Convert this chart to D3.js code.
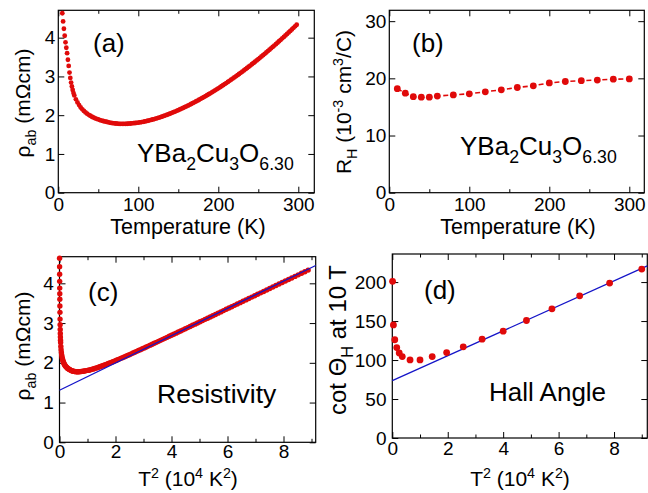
<!DOCTYPE html>
<html><head><meta charset="utf-8">
<script src="https://cdn.jsdelivr.net/npm/d3@7"></script>
<style>
html,body{margin:0;padding:0;background:#fff;}
svg{display:block;font-family:"Liberation Sans",Arial,Helvetica,sans-serif;}
</style></head>
<body><svg id="c" width="648" height="493"></svg>
<script>
// ---- data ----
const tempK = [5,6,7,8,9,10,11,12,13,14,15,16,17,18,19,20,22,24,26,28,30,32,34,36,38,40,42,44,46,48,50,52,54,56,58,60,62,64,66,68,70,72,74,76,78,80,82,84,86,88,90,92,94,96,98,100,102,104,106,108,110,112,114,116,118,120,122,124,126,128,130,132,134,136,138,140,142,144,146,148,150,152,154,156,158,160,162,164,166,168,170,172,174,176,178,180,182,184,186,188,190,192,194,196,198,200,202,204,206,208,210,212,214,216,218,220,222,224,226,228,230,232,234,236,238,240,242,244,246,248,250,252,254,256,258,260,262,264,266,268,270,272,274,276,278,280,282,284,286,288,290,292,294,296,298];
const rhoAB = [4.63,4.42,4.23,4.05,3.88,3.74,3.6,3.43,3.27,3.1,2.96,2.84,2.74,2.65,2.57,2.51,2.41,2.33,2.26,2.2,2.15,2.11,2.07,2.04,2.01,1.985,1.96,1.94,1.92,1.905,1.89,1.875,1.86,1.85,1.84,1.83,1.82,1.81,1.8,1.795,1.79,1.785,1.78,1.778,1.776,1.776,1.776,1.777,1.779,1.782,1.785,1.789,1.793,1.798,1.804,1.81,1.813,1.821,1.829,1.837,1.847,1.856,1.867,1.877,1.889,1.9,1.913,1.925,1.939,1.952,1.966,1.981,1.996,2.011,2.027,2.043,2.06,2.077,2.094,2.112,2.13,2.149,2.167,2.187,2.206,2.226,2.246,2.267,2.288,2.309,2.331,2.353,2.375,2.398,2.421,2.444,2.467,2.491,2.515,2.54,2.565,2.59,2.615,2.641,2.667,2.693,2.72,2.747,2.774,2.802,2.829,2.858,2.886,2.915,2.944,2.973,3.002,3.032,3.062,3.093,3.123,3.154,3.186,3.217,3.249,3.281,3.314,3.346,3.379,3.412,3.446,3.48,3.514,3.548,3.583,3.617,3.653,3.688,3.724,3.76,3.796,3.833,3.87,3.907,3.944,3.982,4.02,4.058,4.096,4.135,4.174,4.213,4.253,4.293,4.333];
const hallT = [10,20,30,40,50,60,80,100,120,140,160,180,200,220,240,260,280,300];
const hallRH = [18.2,17.4,16.8,16.7,16.7,16.9,17.1,17.3,17.65,18.0,18.4,18.7,19.2,19.45,19.6,19.7,19.85,19.9];
const cotTheta = [201,145,126,116,109,104.5,100.2,100.2,104.5,109.6,116.9,126.7,137,150.7,165.7,182.4,198.7,216.7];
const rhoFit = {intercept:1.31, slope:0.343};
const cotFit = {intercept:73.5, slope:16};
const tempTicks = [0,100,200,300];
const t2Ticks = [0,2,4,6,8];

const RED = "#e00a0a", BLUE = "#1414c8";
const TICKFS = 19;
const svg = d3.select("#c");
const fmt = d3.format("d");

function panel(o){
  const g = svg.append("g");
  const x = d3.scaleLinear().domain(o.xd).range([o.x0,o.x1]);
  const y = d3.scaleLinear().domain(o.yd).range([o.y1,o.y0]);
  const mk = (axisFn, scale, vals, len, tr, labels, pad) => {
    const a = axisFn(scale).tickValues(vals).tickSizeInner(-len).tickSizeOuter(0).tickPadding(pad||4);
    a.tickFormat(labels ? fmt : "");
    const gg = g.append("g").attr("transform",tr).call(a);
    gg.select(".domain").remove();
    gg.selectAll("line").attr("stroke","#000").attr("stroke-width",1);
    gg.selectAll("text").attr("font-size",TICKFS).attr("fill","#000").attr("font-family","inherit");
    return gg;
  };
  mk(d3.axisBottom, x, o.xt, 6, `translate(0,${o.y1})`, true, o.xpad);
  mk(d3.axisTop, x, o.xt, 6, `translate(0,${o.y0})`, false);
  mk(d3.axisBottom, x, o.xm, 3.5, `translate(0,${o.y1})`, false);
  mk(d3.axisTop, x, o.xm, 3.5, `translate(0,${o.y0})`, false);
  mk(d3.axisLeft, y, o.yt, 6, `translate(${o.x0},0)`, true, o.ypad || 3);
  mk(d3.axisRight, y, o.yt, 6, `translate(${o.x1},0)`, false);
  g.append("rect").attr("x",o.x0).attr("y",o.y0).attr("width",o.x1-o.x0).attr("height",o.y1-o.y0)
    .attr("fill","none").attr("stroke","#000").attr("stroke-width",1.2);
  return {g,x,y};
}

function addText(sel, parts, fs){
  const off = {"0":0,"-1":0.3,"1":-0.38};
  parts.forEach(([t,m],i)=>{
    const prev = i>0 ? parts[i-1][1] : 0;
    const sp = sel.append("tspan").text(t);
    const shift = off[m] - off[prev];
    if(shift) sp.attr("dy", (shift*fs)+"px");
    sp.attr("font-size", m===0 ? fs : fs*0.68);
  });
}

// Panel a
{
  const p = panel({x0:58.3,x1:314.3,y0:10.3,y1:192.7,xd:[0,320],yd:[0,4.706],xt:tempTicks,xm:[50,150,250],yt:[0,1,2,3,4],xpad:5});
  p.g.append("g").selectAll("circle").data(tempK).join("circle")
    .attr("cx",(d)=>p.x(d)).attr("cy",(d,i)=>p.y(rhoAB[i])).attr("r",2.4).attr("fill",RED);
  const t1 = p.g.append("text").attr("x",93).attr("y",52); addText(t1,[["(a)",0]],26);
  const t2 = p.g.append("text").attr("x",137).attr("y",162);
  addText(t2,[["YBa",0],["2",-1],["Cu",0],["3",-1],["O",0],["6.30",-1]],26);
  const yl = p.g.append("text").attr("transform","translate(30,103) rotate(-90)").attr("text-anchor","middle");
  addText(yl,[["ρ",0],["ab",-1],[" (mΩcm)",0]],21);
  p.g.append("text").attr("x",188).attr("y",234).attr("text-anchor","middle").attr("font-size",21.5).text("Temperature (K)");
}
// Panel b
{
  const p = panel({x0:389.3,x1:644.3,y0:10.3,y1:192.7,xd:[0,318.75],yd:[0,31.9],xt:tempTicks,xm:[50,150,250],yt:[0,10,20,30],xpad:5});
  const line = d3.line().x((d)=>p.x(d)).y((d,i)=>p.y(hallRH[i]));
  p.g.append("path").attr("d",line(hallT)).attr("fill","none").attr("stroke",RED).attr("stroke-width",1.6).attr("stroke-dasharray","5,3");
  p.g.append("g").selectAll("circle").data(hallT).join("circle")
    .attr("cx",d=>p.x(d)).attr("cy",(d,i)=>p.y(hallRH[i])).attr("r",3.4).attr("fill",RED);
  const t1 = p.g.append("text").attr("x",412).attr("y",52); addText(t1,[["(b)",0]],26);
  const t2 = p.g.append("text").attr("x",460).attr("y",155);
  addText(t2,[["YBa",0],["2",-1],["Cu",0],["3",-1],["O",0],["6.30",-1]],26);
  const yl = p.g.append("text").attr("transform","translate(351,102) rotate(-90)").attr("text-anchor","middle");
  addText(yl,[["R",0],["H",-1],[" (10",0],["-3",1],[" cm",0],["3",1],["/C)",0]],21);
  p.g.append("text").attr("x",518).attr("y",234).attr("text-anchor","middle").attr("font-size",21.5).text("Temperature (K)");
}
// Panel c
{
  const p = panel({x0:59.5,x1:315.7,y0:256.7,y1:442.3,xd:[0,9.15],yd:[0,4.67],xt:t2Ticks,xm:[1,3,5,7,9],yt:[0,1,2,3,4],xpad:2.5,ypad:5.8});
  p.g.append("g").selectAll("circle").data(tempK).join("circle")
    .attr("cx",d=>p.x(d*d/1e4)).attr("cy",(d,i)=>p.y(rhoAB[i])).attr("r",2.7).attr("fill",RED);
  p.g.append("line").attr("x1",p.x(0)).attr("y1",p.y(rhoFit.intercept)).attr("x2",p.x(9.15)).attr("y2",p.y(rhoFit.intercept+rhoFit.slope*9.15))
    .attr("stroke",BLUE).attr("stroke-width",1.3);
  const t1 = p.g.append("text").attr("x",88).attr("y",301); addText(t1,[["(c)",0]],26);
  p.g.append("text").attr("x",157).attr("y",403).attr("font-size",26.5).text("Resistivity");
  const yl = p.g.append("text").attr("transform","translate(30,346) rotate(-90)").attr("text-anchor","middle");
  addText(yl,[["ρ",0],["ab",-1],[" (mΩcm)",0]],21);
  const xl = p.g.append("text").attr("x",188).attr("y",486).attr("text-anchor","middle");
  addText(xl,[["T",0],["2",1],[" (10",0],["4",1],[" K",0],["2",1],[")",0]],21);
}
// Panel d
{
  const p = panel({x0:392.3,x1:647.3,y0:254,y1:438,xd:[0,9.2],yd:[0,236],xt:t2Ticks,xm:[1,3,5,7,9],yt:[0,50,100,150,200],xpad:3.5,ypad:5.8});
  p.g.append("line").attr("x1",p.x(0)).attr("y1",p.y(cotFit.intercept)).attr("x2",p.x(9.2)).attr("y2",p.y(cotFit.intercept+cotFit.slope*9.2))
    .attr("stroke",BLUE).attr("stroke-width",1.3);
  p.g.append("g").selectAll("circle").data(hallT).join("circle")
    .attr("cx",d=>p.x(d*d/1e4)).attr("cy",(d,i)=>p.y(cotTheta[i])).attr("r",3.4).attr("fill",RED);
  const t1 = p.g.append("text").attr("x",424).attr("y",299); addText(t1,[["(d)",0]],26);
  p.g.append("text").attr("x",489).attr("y",401).attr("font-size",26).text("Hall Angle");
  const yl = p.g.append("text").attr("transform","translate(346,340) rotate(-90)").attr("text-anchor","middle");
  addText(yl,[["cot Θ",0],["H",-1],[" at 10 T",0]],24);
  const xl = p.g.append("text").attr("x",520).attr("y",486).attr("text-anchor","middle");
  addText(xl,[["T",0],["2",1],[" (10",0],["4",1],[" K",0],["2",1],[")",0]],21);
}
</script></body></html>
